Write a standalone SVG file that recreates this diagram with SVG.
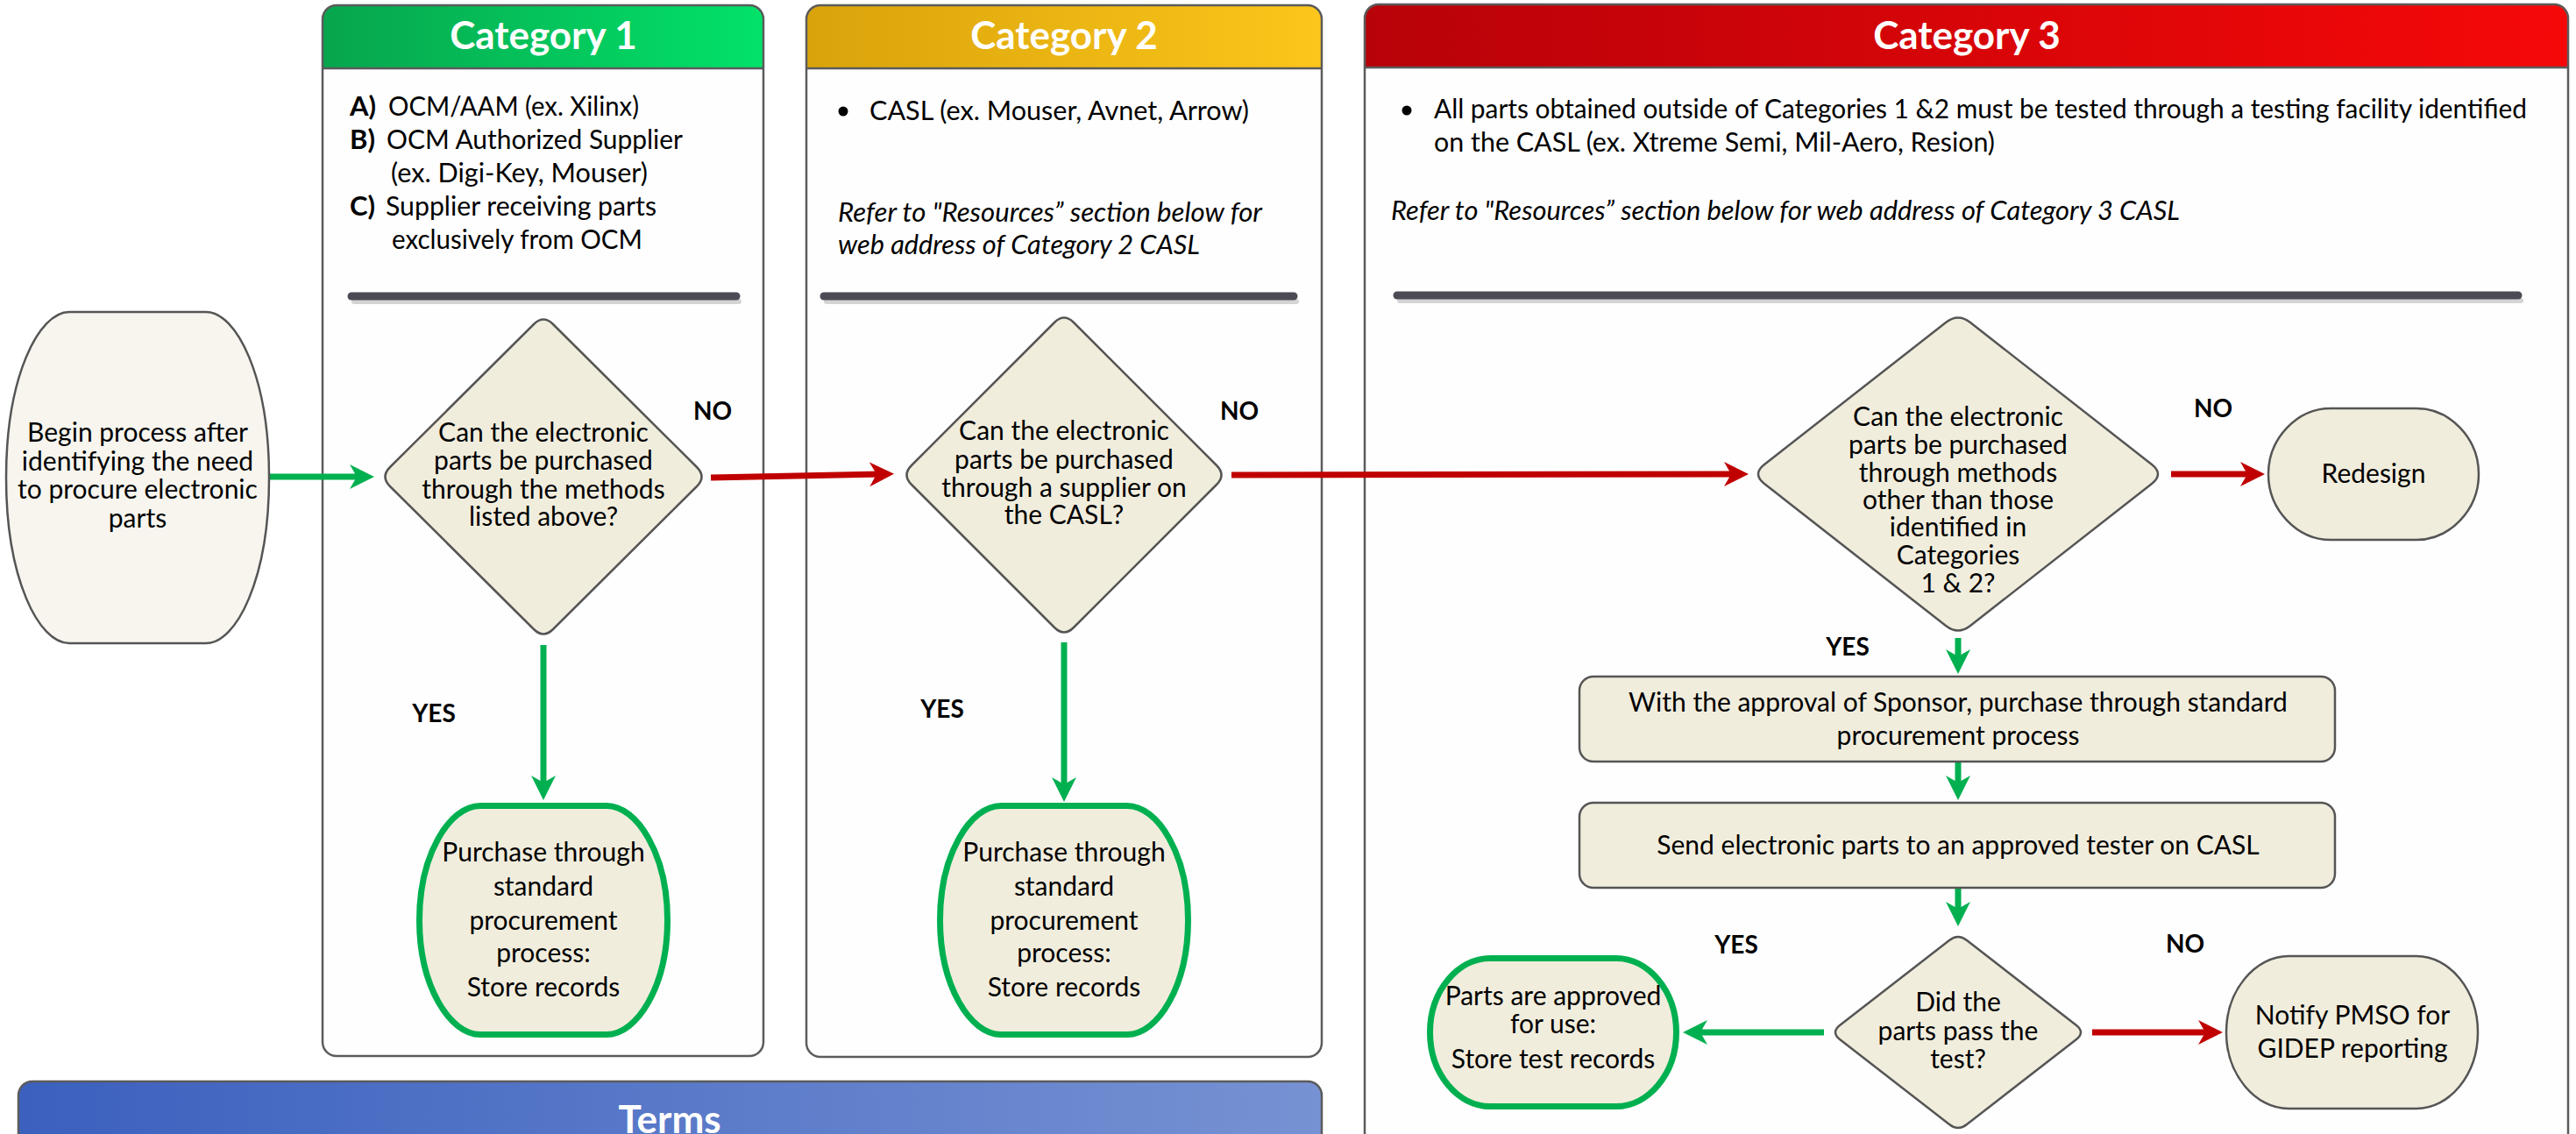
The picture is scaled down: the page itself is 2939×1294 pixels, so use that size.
<svg xmlns="http://www.w3.org/2000/svg" width="2939" height="1294" viewBox="0 0 2939 1294">
<defs>
<linearGradient id="gGreen" x1="0" y1="0" x2="1" y2="0"><stop offset="0" stop-color="#07a54d"/><stop offset="1" stop-color="#02e269"/></linearGradient>
<linearGradient id="gGold" x1="0" y1="0" x2="1" y2="0"><stop offset="0" stop-color="#d9a30b"/><stop offset="1" stop-color="#fcc61b"/></linearGradient>
<linearGradient id="gRed" x1="0" y1="0" x2="1" y2="0"><stop offset="0" stop-color="#b80209"/><stop offset="1" stop-color="#f60808"/></linearGradient>
<linearGradient id="gBlue" x1="0" y1="0" x2="1" y2="0"><stop offset="0" stop-color="#3b60be"/><stop offset="1" stop-color="#7792d3"/></linearGradient>
<marker id="ag" viewBox="0 0 28 28" refX="14" refY="14" markerWidth="28" markerHeight="28" markerUnits="userSpaceOnUse" orient="auto"><path d="M0,0 L28,14 L0,28 L8,14 Z" fill="#00b050"/></marker>
<marker id="ar" viewBox="0 0 28 28" refX="14" refY="14" markerWidth="28" markerHeight="28" markerUnits="userSpaceOnUse" orient="auto"><path d="M0,0 L28,14 L0,28 L8,14 Z" fill="#c00000"/></marker>
</defs>
<style>
.pbg{fill:#fefefe}
.pol{fill:none;stroke:#5b5b5b;stroke-width:2.5}
.hl{stroke:#5b5b5b;stroke-width:2.5}
.title{font-family:Lato,"Open Sans","Liberation Sans",sans-serif;font-weight:700;font-size:44px;fill:#fff;text-anchor:middle}
.txt{font-family:Lato,"Open Sans","Liberation Sans",sans-serif;font-size:31px;fill:#000}
.n{font-size:30px}
.it{font-style:italic}
.b{font-weight:700}
.c{text-anchor:middle}
.node{fill:#f1eddd;stroke:#555;stroke-width:2.5}
.start{fill:#f7f5ee;stroke:#555;stroke-width:2.5}
.gnode{fill:#f1eddd;stroke:#00b050;stroke-width:7}
.div{stroke:#4b4b55;stroke-width:9;stroke-linecap:round}
.divs{stroke:#d4d4d4;stroke-width:6;stroke-linecap:round}
.cg{stroke:#00b050;stroke-width:7;fill:none;marker-end:url(#ag)}
.cr{stroke:#c00000;stroke-width:7;fill:none;marker-end:url(#ar)}
.lbl{font-family:Lato,"Open Sans","Liberation Sans",sans-serif;font-weight:700;font-size:28px;text-anchor:middle;fill:#000}
</style>
<rect x="0" y="0" width="2939" height="1294" fill="#ffffff"/>

<g id="panel-cat1">
<rect class="pbg" x="368" y="6" width="503" height="1199" rx="16"/>
<path d="M368,78 V22 Q368,6 384,6 H855 Q871,6 871,22 V78 Z" fill="url(#gGreen)"/>
<rect class="pol" x="368" y="6" width="503" height="1199" rx="16"/>
<line class="hl" x1="368" y1="78" x2="871" y2="78"/>
<text class="title" x="620" y="56">Category 1</text>
<text class="txt b" x="399" y="132">A)</text><text class="txt" x="443" y="132" textLength="286" lengthAdjust="spacingAndGlyphs">OCM/AAM (ex. Xilinx)</text>
<text class="txt b" x="399" y="170">B)</text><text class="txt" x="441" y="170" textLength="338" lengthAdjust="spacingAndGlyphs">OCM Authorized Supplier</text>
<text class="txt" x="446" y="208" textLength="293" lengthAdjust="spacingAndGlyphs">(ex. Digi-Key, Mouser)</text>
<text class="txt b" x="399" y="246">C)</text><text class="txt" x="440" y="246" textLength="309" lengthAdjust="spacingAndGlyphs">Supplier receiving parts</text>
<text class="txt" x="447" y="284" textLength="286" lengthAdjust="spacingAndGlyphs">exclusively from OCM</text>
<line class="divs" x1="404" y1="344" x2="843" y2="344"/>
<line class="div" x1="401" y1="338" x2="840" y2="338"/>
</g>

<g id="panel-cat2">
<rect class="pbg" x="920" y="6" width="588" height="1200" rx="16"/>
<path d="M920,78 V22 Q920,6 936,6 H1492 Q1508,6 1508,22 V78 Z" fill="url(#gGold)"/>
<rect class="pol" x="920" y="6" width="588" height="1200" rx="16"/>
<line class="hl" x1="920" y1="78" x2="1508" y2="78"/>
<text class="title" x="1214" y="56">Category 2</text>
<circle cx="962" cy="127" r="5.5" fill="#000"/>
<text class="txt" x="992" y="137" textLength="433" lengthAdjust="spacingAndGlyphs">CASL (ex. Mouser, Avnet, Arrow)</text>
<text class="txt it" x="956" y="253" textLength="484" lengthAdjust="spacingAndGlyphs">Refer to "Resources” section below for</text>
<text class="txt it" x="956" y="290" textLength="413" lengthAdjust="spacingAndGlyphs">web address of Category 2 CASL</text>
<line class="divs" x1="943" y1="344" x2="1479" y2="344"/>
<line class="div" x1="940" y1="338" x2="1476" y2="338"/>
</g>

<g id="panel-cat3">
<rect class="pbg" x="1557" y="5" width="1373" height="1340" rx="16"/>
<path d="M1557,77 V21 Q1557,5 1573,5 H2914 Q2930,5 2930,21 V77 Z" fill="url(#gRed)"/>
<rect class="pol" x="1557" y="5" width="1373" height="1340" rx="16"/>
<line class="hl" x1="1557" y1="77" x2="2930" y2="77"/>
<text class="title" x="2244" y="56">Category 3</text>
<circle cx="1605" cy="126" r="5.5" fill="#000"/>
<text class="txt" x="1636" y="135" textLength="1247" lengthAdjust="spacingAndGlyphs">All parts obtained outside of Categories 1 &amp;2 must be tested through a testing facility identified</text>
<text class="txt" x="1636" y="173" textLength="640" lengthAdjust="spacingAndGlyphs">on the CASL (ex. Xtreme Semi, Mil-Aero, Resion)</text>
<text class="txt it" x="1587" y="251" textLength="900" lengthAdjust="spacingAndGlyphs">Refer to "Resources” section below for web address of Category 3 CASL</text>
<line class="divs" x1="1597" y1="343" x2="2876" y2="343"/>
<line class="div" x1="1594" y1="337" x2="2873" y2="337"/>
</g>

<g id="panel-terms">
<rect class="pbg" x="21" y="1234" width="1487" height="120" rx="16"/>
<path d="M21,1320 V1250 Q21,1234 37,1234 H1492 Q1508,1234 1508,1250 V1320 Z" fill="url(#gBlue)"/>
<rect class="pol" x="21" y="1234" width="1487" height="120" rx="16"/>
<text class="title" x="764" y="1293">Terms</text>
</g>

<g id="connectors">
<line class="cg" x1="308" y1="544" x2="413" y2="544"/>
<line class="cg" x1="620" y1="736" x2="620" y2="899"/>
<line class="cr" x1="811" y1="545" x2="1006" y2="541"/>
<line class="cg" x1="1214" y1="733" x2="1214" y2="901"/>
<line class="cr" x1="1405" y1="542" x2="1981" y2="541"/>
<line class="cr" x1="2477" y1="541" x2="2570" y2="541"/>
<line class="cg" x1="2234" y1="728" x2="2234" y2="755"/>
<line class="cg" x1="2234" y1="869" x2="2234" y2="899"/>
<line class="cg" x1="2234" y1="1013" x2="2234" y2="1043"/>
<line class="cg" x1="2081" y1="1178" x2="1934" y2="1178"/>
<line class="cr" x1="2387" y1="1178" x2="2522" y2="1178"/>
</g>

<g id="labels">
<text class="lbl" x="813" y="479">NO</text>
<text class="lbl" x="1414" y="479">NO</text>
<text class="lbl" x="2525" y="476">NO</text>
<text class="lbl" x="495" y="824">YES</text>
<text class="lbl" x="1075" y="819">YES</text>
<text class="lbl" x="2108" y="748">YES</text>
<text class="lbl" x="1981" y="1088">YES</text>
<text class="lbl" x="2493" y="1087">NO</text>
</g>

<g id="node-begin">
<path class="start" d="M79,356 H235 C270,356 307,430 307,545 C307,660 270,734 235,734 H79 C44,734 7,660 7,545 C7,430 44,356 79,356 Z"/>
<text class="txt n c" x="157" y="504">Begin process after</text>
<text class="txt n c" x="157" y="537">identifying the need</text>
<text class="txt n c" x="157" y="569">to procure electronic</text>
<text class="txt n c" x="157" y="602">parts</text>
</g>

<g id="node-d1">
<path class="node" d="M609,370 Q620,359 631,370 L795,533 Q806,544 795,555 L631,718 Q620,729 609,718 L445,555 Q434,544 445,533 Z"/>
<text class="txt n c" x="620" y="504">Can the electronic</text>
<text class="txt n c" x="620" y="536">parts be purchased</text>
<text class="txt n c" x="620" y="569">through the methods</text>
<text class="txt n c" x="620" y="600">listed above?</text>
</g>

<g id="node-p1">
<path class="gnode" d="M548,919.5 H692 C727,919.5 761.5,975 761.5,1050 C761.5,1125 727,1180.5 692,1180.5 H548 C513,1180.5 478.5,1125 478.5,1050 C478.5,975 513,919.5 548,919.5 Z"/>
<text class="txt n c" x="620" y="983">Purchase through</text>
<text class="txt n c" x="620" y="1022">standard</text>
<text class="txt n c" x="620" y="1061">procurement</text>
<text class="txt n c" x="620" y="1098">process:</text>
<text class="txt n c" x="620" y="1137">Store records</text>
</g>

<g id="node-d2">
<path class="node" d="M1203,368 Q1214,357 1225,368 L1388,531 Q1399,542 1388,553 L1225,716 Q1214,727 1203,716 L1040,553 Q1029,542 1040,531 Z"/>
<text class="txt n c" x="1214" y="502">Can the electronic</text>
<text class="txt n c" x="1214" y="535">parts be purchased</text>
<text class="txt n c" x="1214" y="567">through a supplier on</text>
<text class="txt n c" x="1214" y="598">the CASL?</text>
</g>

<g id="node-p2">
<path class="gnode" d="M1142,919.5 H1286 C1321,919.5 1355.5,975 1355.5,1050 C1355.5,1125 1321,1180.5 1286,1180.5 H1142 C1107,1180.5 1072.5,1125 1072.5,1050 C1072.5,975 1107,919.5 1142,919.5 Z"/>
<text class="txt n c" x="1214" y="983">Purchase through</text>
<text class="txt n c" x="1214" y="1022">standard</text>
<text class="txt n c" x="1214" y="1061">procurement</text>
<text class="txt n c" x="1214" y="1098">process:</text>
<text class="txt n c" x="1214" y="1137">Store records</text>
</g>

<g id="node-d3">
<path class="node" d="M2220,368 Q2234,357 2248,368 L2455,530 Q2469,541 2455,552 L2248,714 Q2234,725 2220,714 L2013,552 Q1999,541 2013,530 Z"/>
<text class="txt n c" x="2234" y="486">Can the electronic</text>
<text class="txt n c" x="2234" y="518">parts be purchased</text>
<text class="txt n c" x="2234" y="550">through methods</text>
<text class="txt n c" x="2234" y="581">other than those</text>
<text class="txt n c" x="2234" y="612">identified in</text>
<text class="txt n c" x="2234" y="644">Categories</text>
<text class="txt n c" x="2234" y="676">1 &amp; 2?</text>
</g>

<g id="node-redesign">
<path class="node" d="M2659,466 H2757 C2795,466 2828,500 2828,541 C2828,582 2795,616 2757,616 H2659 C2621,616 2588,582 2588,541 C2588,500 2621,466 2659,466 Z"/>
<text class="txt n c" x="2708" y="551">Redesign</text>
</g>

<g id="node-approve">
<rect class="node" x="1802" y="772" width="862" height="97" rx="16"/>
<text class="txt n c" x="2234" y="812">With the approval of Sponsor, purchase through standard</text>
<text class="txt n c" x="2234" y="850">procurement process</text>
</g>

<g id="node-send">
<rect class="node" x="1802" y="916" width="862" height="97" rx="16"/>
<text class="txt n c" x="2234" y="975">Send electronic parts to an approved tester on CASL</text>
</g>

<g id="node-d4">
<path class="node" d="M2224,1073 Q2234,1065 2244,1073 L2369,1170 Q2379,1178 2369,1186 L2244,1283 Q2234,1291 2224,1283 L2099,1186 Q2089,1178 2099,1170 Z"/>
<text class="txt n c" x="2234" y="1154">Did the</text>
<text class="txt n c" x="2234" y="1187">parts pass the</text>
<text class="txt n c" x="2234" y="1219">test?</text>
</g>

<g id="node-parts">
<path class="gnode" d="M1700,1093.5 H1844 C1880,1093.5 1912.5,1130 1912.5,1178 C1912.5,1226 1880,1262.5 1844,1262.5 H1700 C1664,1262.5 1631.5,1226 1631.5,1178 C1631.5,1130 1664,1093.5 1700,1093.5 Z"/>
<text class="txt n c" x="1772" y="1147">Parts are approved</text>
<text class="txt n c" x="1772" y="1179">for use:</text>
<text class="txt n c" x="1772" y="1219">Store test records</text>
</g>

<g id="node-notify">
<path class="node" d="M2611,1091 H2757 C2795,1091 2827,1130 2827,1178 C2827,1226 2795,1265 2757,1265 H2611 C2573,1265 2540,1226 2540,1178 C2540,1130 2573,1091 2611,1091 Z"/>
<text class="txt n c" x="2684" y="1169">Notify PMSO for</text>
<text class="txt n c" x="2684" y="1207">GIDEP reporting</text>
</g>
</svg>
